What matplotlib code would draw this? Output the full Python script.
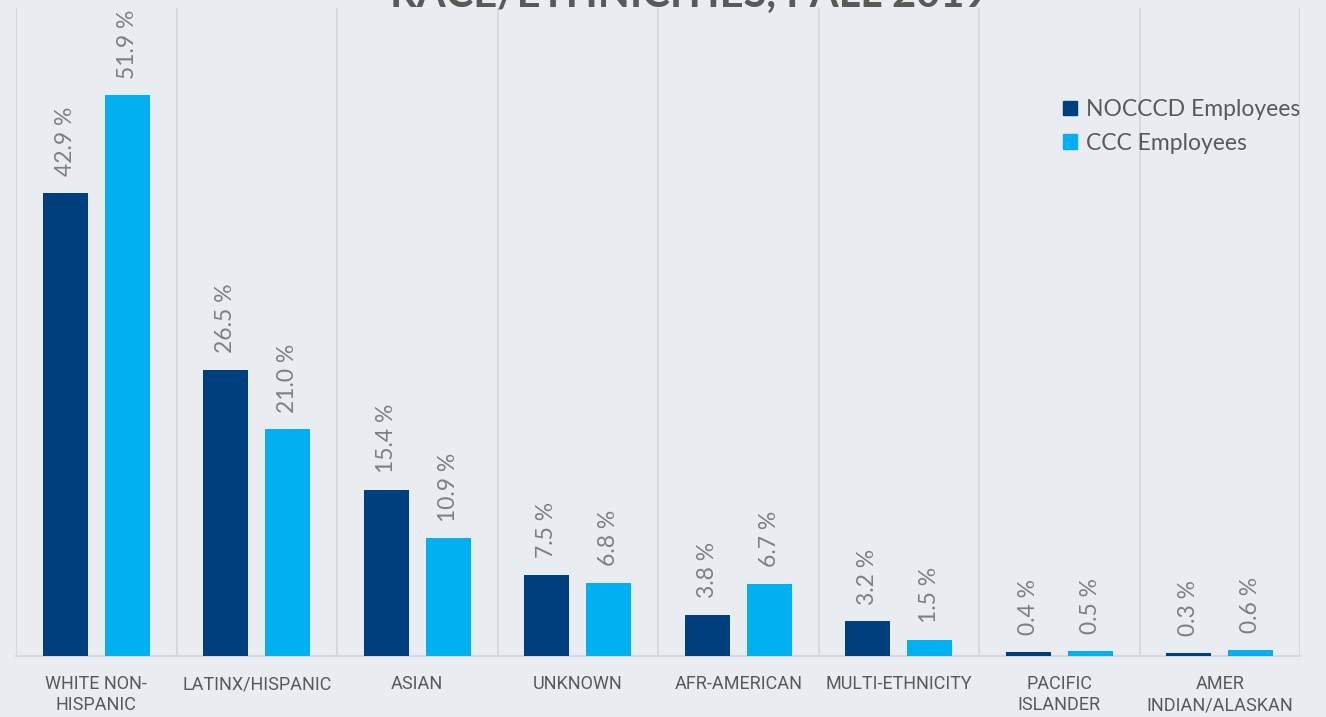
import matplotlib
matplotlib.use("Agg")
import matplotlib.pyplot as plt
import numpy as np
from matplotlib.patches import Patch
from matplotlib import font_manager

categories = ["WHITE NON-\nHISPANIC", "LATINX/HISPANIC", "ASIAN", "UNKNOWN",
              "AFR-AMERICAN", "MULTI-ETHNICITY", "PACIFIC\nISLANDER", "AMER\nINDIAN/ALASKAN"]
noccd = [42.9, 26.5, 15.4, 7.5, 3.8, 3.2, 0.4, 0.3]
ccc = [51.9, 21.0, 10.9, 6.8, 6.7, 1.5, 0.5, 0.6]
series_names = ["NOCCCD Employees", "CCC Employees"]
title = "RACE/ETHNICITIES, FALL 2019"

bg = "#E9ECF1"
dark = "#003F7D"
light = "#00B0F0"
grid_c = "#D5D8DD"
text_c = "#595959"
label_c = "#7F7F7F"

names = {f.name for f in font_manager.fontManager.ttflist}
narrow = "Liberation Sans Narrow" if "Liberation Sans Narrow" in names else None

fig = plt.figure(figsize=(13.26, 7.17), dpi=100, facecolor=bg)
ax = fig.add_axes([16/1326, 61/717, 1284/1326, 648/717])
ax.set_facecolor(bg)

x = np.arange(len(categories))
w = 0.28
off = 0.193
b1 = ax.bar(x - off, noccd, w, color=dark, label=series_names[0], zorder=3)
b2 = ax.bar(x + off, ccc, w, color=light, label=series_names[1], zorder=3)

for bars, vals in ((b1, noccd), (b2, ccc)):
    for r, v in zip(bars, vals):
        ax.annotate(f"{v:.1f} %", (r.get_x() + r.get_width()/2, v),
                    xytext=(0, 12), textcoords="offset points",
                    rotation=90, ha="center", va="bottom",
                    fontsize=16.5, color=label_c, family=["Lato", "DejaVu Sans"])

ax.set_xlim(-0.5, len(categories) - 0.5)
ax.set_ylim(0, 60)
ax.set_yticks([])
ax.set_xticks(x)
if narrow:
    ax.set_xticklabels(categories, fontsize=14.5, color=text_c,
                       family=[narrow, "DejaVu Sans"], linespacing=1.15)
else:
    ax.set_xticklabels(categories, fontsize=13, color=text_c,
                       family=["Roboto", "DejaVu Sans"], linespacing=1.2)
ax.tick_params(axis="x", length=0, pad=14)
ax.set_xticks(np.arange(-0.5, len(categories)), minor=True)
ax.tick_params(axis="x", which="minor", length=0)
ax.grid(True, axis="x", which="minor", color=grid_c, linewidth=1.5, zorder=0)
ax.grid(False, axis="x", which="major")
for s in ["top", "left", "right"]:
    ax.spines[s].set_visible(False)
ax.spines["bottom"].set_color(grid_c)
ax.spines["bottom"].set_linewidth(1.5)

handles = [Patch(color=dark), Patch(color=light)]
leg = ax.legend(handles, series_names, loc="upper left",
                bbox_to_anchor=(1063/1326, 1 - 99/717), bbox_transform=fig.transFigure,
                frameon=False, prop={"family": "Lato", "size": 16.5},
                handlelength=0.62, handleheight=0.62, handletextpad=0.4,
                labelspacing=0.55, borderaxespad=0, borderpad=0)
for t in leg.get_texts():
    t.set_color(text_c)

fig.text(689/1326, 1 - 7/717, title, ha="center", va="baseline",
         fontsize=30, fontweight="bold", color=text_c, family=["Lato", "DejaVu Sans"])

fig.savefig("out.png", dpi=100, facecolor=bg)
